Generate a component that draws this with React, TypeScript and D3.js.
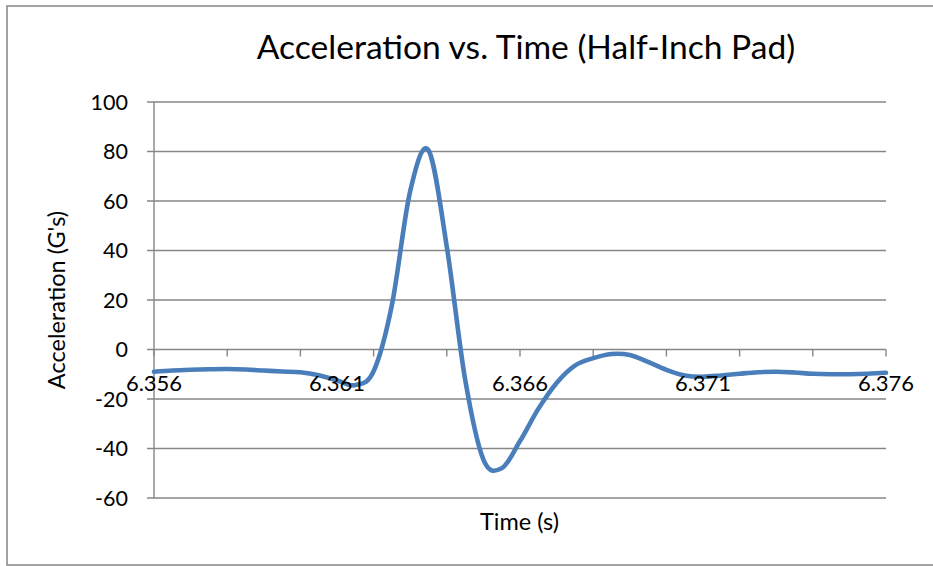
import React from "react";
import * as d3 from "d3";

// Sample times (s), one reading every 0.5 ms
const times: number[] = d3.range(41).map((i) => +(6.356 + i * 0.0005).toFixed(4));

// Measured acceleration (G's) at each sample time
const accel: number[] = [
  -9.0, -8.5, -8.2, -8.0, -7.9, -8.1, -8.5, -8.9, -9.2, -10.4,
  -12.5, -14.4, -8.8, 18.0, 64, 80.5, 41.5, -12, -44.5, -48,
  -37, -24, -13.5, -6.5, -3.5, -1.8, -2.2, -5.0, -8.2, -10.5,
  -11, -10.5, -9.8, -9.2, -9.0, -9.3, -9.8, -10.0, -10.0, -9.8, -9.4,
];

const yTickValues: number[] = [100, 80, 60, 40, 20, 0, -20, -40, -60];
const xTickMarks: number[] = d3.range(11).map((i) => 6.356 + i * 0.002);
const xLabelValues: number[] = [6.356, 6.361, 6.366, 6.371, 6.376];

const title = "Acceleration vs. Time (Half-Inch Pad)";
const xTitle = "Time (s)";
const yTitle = "Acceleration (G's)";

const W = 933;
const H = 566;
const FONT = "Lato, 'Open Sans', sans-serif";
const GRID = "#868686";
const LINE = "#4a7ebb";

export default function App() {
  const x = d3.scaleLinear().domain([6.356, 6.376]).range([154, 886]);
  const y = d3.scaleLinear().domain([-60, 100]).range([498, 102]);

  const pts: [number, number][] = times.map((t, i) => [t, accel[i]]);
  const path = d3
    .line<[number, number]>()
    .x((d) => x(d[0]))
    .y((d) => y(d[1]))
    .curve(d3.curveCardinal.tension(0))(pts) as string;

  const x0 = x.range()[0];
  const x1 = x.range()[1];
  const yZero = y(0);

  return (
    <svg
      width={W}
      height={H}
      style={{ position: "absolute", left: 0, top: 0, background: "#fff" }}
      fontFamily={FONT}
    >
      <rect x={7} y={6} width={W + 10} height={559} fill="#fff" stroke="#8c8c8c" strokeWidth={1.6} />

      <text x={526} y={59} fontSize={33.6} textAnchor="middle" fill="#000">
        {title}
      </text>

      {/* horizontal gridlines with their left tick marks */}
      {yTickValues.map((v) => (
        <g key={v}>
          <line x1={x0 - 7} x2={x1} y1={y(v)} y2={y(v)} stroke={GRID} strokeWidth={1.4} />
          <text x={128} y={y(v) + 7.5} fontSize={21.5} textAnchor="end" fill="#000">
            {v}
          </text>
        </g>
      ))}

      {/* vertical value axis */}
      <line x1={x0} x2={x0} y1={y(100)} y2={y(-60)} stroke={GRID} strokeWidth={1.4} />

      {/* time axis ticks hanging below the zero line */}
      {xTickMarks.map((t, i) => (
        <line key={i} x1={x(t)} x2={x(t)} y1={yZero} y2={yZero + 7} stroke={GRID} strokeWidth={1.4} />
      ))}

      <path d={path} fill="none" stroke={LINE} strokeWidth={4.6} strokeLinejoin="round" strokeLinecap="round" />

      {xLabelValues.map((t) => (
        <text key={t} x={x(t)} y={391} fontSize={22} textAnchor="middle" fill="#000">
          {t.toFixed(3)}
        </text>
      ))}

      <text x={519.5} y={530} fontSize={23.5} textAnchor="middle" fill="#000">
        {xTitle}
      </text>
      <text
        transform={`translate(65, 300) rotate(-90)`}
        fontSize={23.5}
        textAnchor="middle"
        fill="#000"
      >
        {yTitle}
      </text>
    </svg>
  );
}
